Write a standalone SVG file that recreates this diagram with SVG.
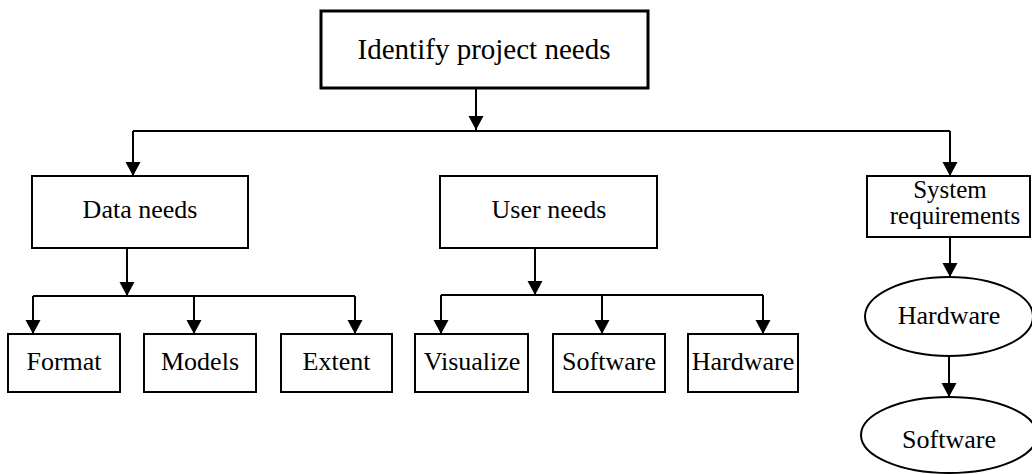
<svg xmlns="http://www.w3.org/2000/svg" width="1032" height="474" viewBox="0 0 1032 474">
<style>
.box{fill:#fff;stroke:#000;stroke-width:2}
.top{fill:#fff;stroke:#000;stroke-width:3}
.ln{fill:none;stroke:#000;stroke-width:2}
.t{font-family:'Liberation Serif','Times New Roman',Times,'DejaVu Serif',serif;font-size:26px;fill:#000;text-anchor:middle}
.s{font-size:25px}
</style>
<defs>
<marker id="ah" markerUnits="userSpaceOnUse" markerWidth="16" markerHeight="16" viewBox="0 0 16 16" refX="14" refY="8" orient="auto">
<path d="M0,0.5 L14,8 L0,15.5 Z" fill="#000"/>
</marker>
</defs>
<rect width="1032" height="474" fill="#fff"/>
<g id="connectors">
<path class="ln" d="M476,88 V130" marker-end="url(#ah)"/>
<path class="ln" d="M133,131 H950"/>
<path class="ln" d="M133,131 V176" marker-end="url(#ah)"/>
<path class="ln" d="M950,131 V176" marker-end="url(#ah)"/>
<path class="ln" d="M127,248 V296" marker-end="url(#ah)"/>
<path class="ln" d="M33,296 H355"/>
<path class="ln" d="M33,296 V334" marker-end="url(#ah)"/>
<path class="ln" d="M194,296 V334" marker-end="url(#ah)"/>
<path class="ln" d="M355,296 V334" marker-end="url(#ah)"/>
<path class="ln" d="M535,248 V295" marker-end="url(#ah)"/>
<path class="ln" d="M441,295 H763"/>
<path class="ln" d="M441,295 V334" marker-end="url(#ah)"/>
<path class="ln" d="M602,295 V334" marker-end="url(#ah)"/>
<path class="ln" d="M763,295 V334" marker-end="url(#ah)"/>
<path class="ln" d="M950,237 V277" marker-end="url(#ah)"/>
<path class="ln" d="M949,356 V397" marker-end="url(#ah)"/>
</g>
<g id="identify">
<rect class="top" x="321" y="11" width="327" height="77"/>
<text class="t" x="484" y="59" font-size="29" style="font-size:29px">Identify project needs</text>
</g>
<g id="data-needs">
<rect class="box" x="32" y="176" width="216" height="72"/>
<text class="t" x="140" y="218">Data needs</text>
</g>
<g id="user-needs">
<rect class="box" x="440" y="176" width="217" height="72"/>
<text class="t" x="549" y="218">User needs</text>
</g>
<g id="system-requirements">
<rect class="box" x="867" y="176" width="163" height="61"/>
<text class="t s" x="950" y="198">System</text>
<text class="t s" x="955" y="224">requirements</text>
</g>
<g id="format">
<rect class="box" x="8" y="334" width="112" height="58"/>
<text class="t" x="64" y="370">Format</text>
</g>
<g id="models">
<rect class="box" x="144" y="334" width="112" height="58"/>
<text class="t" x="200" y="370">Models</text>
</g>
<g id="extent">
<rect class="box" x="281" y="334" width="111" height="58"/>
<text class="t" x="336.5" y="370">Extent</text>
</g>
<g id="visualize">
<rect class="box" x="415" y="334" width="113" height="58"/>
<text class="t" x="472" y="370">Visualize</text>
</g>
<g id="software-user">
<rect class="box" x="553" y="334" width="112" height="58"/>
<text class="t" x="609" y="370">Software</text>
</g>
<g id="hardware-user">
<rect class="box" x="688" y="334" width="110" height="58"/>
<text class="t" x="743" y="370">Hardware</text>
</g>
<g id="hardware-sys">
<ellipse class="box" cx="949" cy="316.5" rx="84" ry="39.5"/>
<text class="t" x="949" y="324">Hardware</text>
</g>
<g id="software-sys">
<ellipse class="box" cx="949" cy="435" rx="88" ry="38"/>
<text class="t" x="949" y="448">Software</text>
</g>
</svg>
